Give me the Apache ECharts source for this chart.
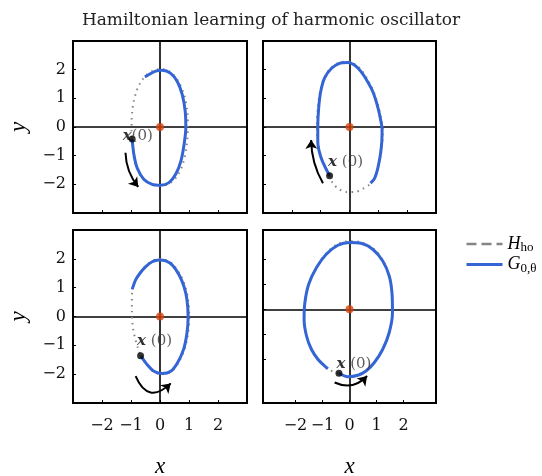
<!DOCTYPE html>
<html>
<head>
<meta charset="utf-8">
<script src="https://cdn.jsdelivr.net/npm/echarts@6/dist/echarts.min.js"></script>
<style>
  html, body { margin: 0; padding: 0; background: #fff; }
  #chart { width: 542px; height: 476px; }
</style>
</head>
<body>
<div id="chart"></div>
<script>
// tick values shared by every panel
const tickValues = [-2, -1, 0, 1, 2];

// panel 1 (top left)
const p1True = [[-0.96,-0.42],[-0.92,-0.95],[-0.80,-1.42],[-0.58,-1.80],[-0.30,-2.00],[0.02,-2.05],[0.33,-1.97],[0.60,-1.70],[0.80,-1.25],[0.92,-0.65],[0.96,0.0],[0.94,0.55],[0.84,1.10],[0.64,1.58],[0.38,1.90],[0.08,2.02],[-0.20,1.98],[-0.45,1.83],[-0.67,1.56],[-0.82,1.22],[-0.91,0.87],[-0.96,0.52],[-0.98,0.20],[-0.98,-0.12],[-0.96,-0.42]];
const p1Learned = [[-0.96,-0.42],[-0.90,-0.96],[-0.79,-1.42],[-0.56,-1.82],[-0.27,-2.00],[0.02,-2.03],[0.31,-1.94],[0.54,-1.65],[0.72,-1.19],[0.83,-0.61],[0.89,-0.03],[0.87,0.54],[0.77,1.12],[0.60,1.58],[0.37,1.87],[0.08,1.98],[-0.15,1.95],[-0.38,1.83],[-0.52,1.75]];

// panel 2 (top right)
const p2True = [[-0.69,-1.70],[-0.95,-1.12],[-1.10,-0.52],[-1.13,0.0],[-1.10,0.65],[-1.02,1.23],[-0.88,1.72],[-0.64,2.07],[-0.35,2.25],[-0.05,2.28],[0.20,2.18],[0.44,1.95],[0.67,1.58],[0.85,1.20],[0.99,0.76],[1.10,0.28],[1.15,-0.12],[1.14,-0.55],[1.08,-1.00],[0.98,-1.45],[0.85,-1.82],[0.70,-2.00],[0.46,-2.16],[0.17,-2.27],[-0.12,-2.27],[-0.40,-2.14],[-0.58,-1.96],[-0.69,-1.70]];
const p2Learned = [[-0.69,-1.70],[-0.98,-1.09],[-1.10,-0.51],[-1.10,0.01],[-1.07,0.65],[-1.00,1.23],[-0.87,1.70],[-0.63,2.04],[-0.35,2.22],[-0.06,2.25],[0.17,2.16],[0.40,1.93],[0.63,1.58],[0.81,1.23],[0.96,0.77],[1.07,0.30],[1.13,-0.10],[1.12,-0.51],[1.07,-0.98],[0.98,-1.44],[0.87,-1.79],[0.73,-1.96]];

// panel 3 (bottom left)
const p3True = [[-0.67,-1.36],[-0.44,-1.68],[-0.21,-1.92],[0.08,-2.00],[0.38,-1.92],[0.62,-1.63],[0.84,-1.16],[0.97,-0.58],[1.01,0.0],[0.97,0.58],[0.87,1.05],[0.69,1.47],[0.45,1.80],[0.20,1.96],[-0.03,1.99],[-0.27,1.93],[-0.50,1.75],[-0.70,1.50],[-0.85,1.25],[-0.95,0.92],[-0.97,0.55],[-0.97,0.20],[-0.96,-0.12],[-0.92,-0.48],[-0.84,-0.82],[-0.76,-1.10],[-0.67,-1.36]];
const p3Learned = [[-0.64,-1.40],[-0.44,-1.67],[-0.21,-1.90],[0.08,-1.98],[0.37,-1.90],[0.60,-1.61],[0.81,-1.15],[0.93,-0.57],[0.97,0.0],[0.93,0.58],[0.83,1.03],[0.66,1.44],[0.43,1.78],[0.20,1.93],[-0.03,1.96],[-0.27,1.90],[-0.50,1.72],[-0.69,1.50],[-0.84,1.27],[-0.96,0.94]];

// panel 4 (bottom right)
const p4True = [[-0.39,-2.56],[-0.06,-2.70],[0.31,-2.64],[0.61,-2.47],[0.92,-2.13],[1.23,-1.60],[1.47,-0.93],[1.59,-0.13],[1.57,0.67],[1.47,1.33],[1.24,1.95],[0.87,2.44],[0.43,2.68],[0.0,2.72],[-0.43,2.62],[-0.86,2.24],[-1.22,1.68],[-1.51,1.00],[-1.65,0.27],[-1.68,-0.40],[-1.59,-1.07],[-1.41,-1.60],[-1.17,-2.00],[-0.92,-2.27],[-0.70,-2.45],[-0.39,-2.56]];
const p4Learned = [[-0.39,-2.56],[-0.06,-2.70],[0.31,-2.64],[0.61,-2.47],[0.92,-2.13],[1.23,-1.60],[1.47,-0.93],[1.59,-0.13],[1.57,0.67],[1.47,1.33],[1.23,1.93],[0.86,2.40],[0.43,2.64],[0.0,2.67],[-0.43,2.56],[-0.86,2.20],[-1.22,1.67],[-1.51,1.00],[-1.65,0.27],[-1.68,-0.40],[-1.59,-1.07],[-1.41,-1.60],[-1.17,-2.00],[-0.92,-2.27],[-0.80,-2.38]];

// starting points x(0)
const startPoints = [[-0.96,-0.42],[-0.69,-1.70],[-0.67,-1.36],[-0.39,-2.56]];
// direction arrows: [from, to]
const arrowCoords = [
  [[-1.19,-0.90],[-0.75,-2.09]],
  [[-0.92,-1.96],[-1.33,-0.45]],
  [[-0.84,-2.07],[0.37,-2.32]],
  [[-0.55,-2.93],[0.65,-2.67]]
];
// axis ranges per panel
const xRanges = [[-3,3],[-3,3],[-3,3],[-3.2,3.2]];
const yRanges = [[-3,3],[-3,3],[-3,3],[-3.75,3.17]];

const trueSets = [p1True, p2True, p3True, p4True];
const learnedSets = [p1Learned, p2Learned, p3Learned, p4Learned];

const SERIF = '"DejaVu Serif", "Liberation Serif", serif';
const GRAY = '#858585';
const BLUE = '#3465d4';
const RED = '#d4420e';

const gridPos = [
  { left: 73, top: 41, width: 174, height: 172 },
  { left: 263, top: 41, width: 173, height: 172 },
  { left: 73, top: 230, width: 174, height: 173 },
  { left: 263, top: 230, width: 173, height: 173 }
];
const arrowCurve = [-0.17, 0.13, -0.72, -0.36];
const labelOffsets = [[-13, -3], [-5, -14], [-7, -15], [-6, -9]];

const fmt = v => (v < 0 ? '\u2212' + (-v) : String(v));

const grids = gridPos.map(g => Object.assign({
  show: true, borderColor: '#000', borderWidth: 2, backgroundColor: 'transparent',
  containLabel: false, outerBoundsMode: 'none'
}, g));

const xAxes = gridPos.map((g, i) => ({
  type: 'value', gridIndex: i, min: xRanges[i][0], max: xRanges[i][1],
  axisLine: { show: false, onZero: false },
  splitLine: { show: false },
  axisTick: { show: true, inside: true, length: 3, customValues: tickValues, lineStyle: { color: '#000', width: 1 } },
  axisLabel: {
    show: i >= 2, customValues: tickValues, formatter: fmt, margin: 15,
    color: '#111', fontFamily: SERIF, fontSize: 16
  },
  name: i >= 2 ? 'x' : '', nameLocation: 'middle', nameGap: 52,
  nameTextStyle: { fontFamily: '"Liberation Serif", serif', fontStyle: 'italic', fontSize: 23, color: '#000' }
}));

const yAxes = gridPos.map((g, i) => ({
  type: 'value', gridIndex: i, min: yRanges[i][0], max: yRanges[i][1],
  axisLine: { show: false, onZero: false },
  splitLine: { show: false },
  axisTick: { show: true, inside: true, length: 3, customValues: tickValues, lineStyle: { color: '#000', width: 1 } },
  axisLabel: {
    show: i % 2 === 0, customValues: tickValues, formatter: fmt, margin: 7,
    color: '#111', fontFamily: SERIF, fontSize: 16
  },
  name: i % 2 === 0 ? 'y' : '', nameLocation: 'middle', nameGap: 43, nameRotate: 90,
  nameTextStyle: { fontFamily: '"Liberation Serif", serif', fontStyle: 'italic', fontSize: 23, color: '#000' }
}));

const series = [];
gridPos.forEach((g, i) => {
  series.push({
    name: 'Hho', type: 'line', xAxisIndex: i, yAxisIndex: i,
    data: trueSets[i], smooth: 0.3, symbol: 'none', z: 2,
    lineStyle: { color: GRAY, width: 2, type: [1.5, 4.5] },
    itemStyle: { color: GRAY },
    markLine: {
      silent: true, symbol: 'none', z: 1,
      label: { show: false },
      lineStyle: { color: '#000', width: 1.6, type: 'solid' },
      data: [{ xAxis: 0 }, { yAxis: 0 }]
    }
  });
  series.push({
    name: 'G', type: 'line', xAxisIndex: i, yAxisIndex: i,
    data: learnedSets[i], smooth: 0.3, symbol: 'none', z: 3,
    lineStyle: { color: BLUE, width: 3 },
    itemStyle: { color: BLUE }
  });
  series.push({
    type: 'lines', coordinateSystem: 'cartesian2d', xAxisIndex: i, yAxisIndex: i, z: 4,
    symbol: ['none', 'arrow'], symbolSize: 9,
    lineStyle: { color: '#000', width: 2, opacity: 1, curveness: arrowCurve[i] },
    data: [{ coords: arrowCoords[i] }]
  });
  series.push({
    type: 'scatter', xAxisIndex: i, yAxisIndex: i, z: 5,
    data: [[0, 0]], symbolSize: 8, itemStyle: { color: RED }
  });
  series.push({
    type: 'scatter', xAxisIndex: i, yAxisIndex: i, z: 6,
    data: [startPoints[i]], symbolSize: 7, itemStyle: { color: '#000' },
    label: {
      show: true, position: 'right', distance: 0, offset: labelOffsets[i],
      formatter: i === 0 ? '{b|x}{n|(0)}' : '{b|x}{n| (0)}',
      rich: {
        b: { fontFamily: SERIF, fontStyle: 'italic', fontWeight: 'bold', fontSize: 15, color: '#000' },
        n: { fontFamily: SERIF, fontSize: 15, color: '#333' }
      }
    }
  });
});

const chart = echarts.init(document.getElementById('chart'), null, { renderer: 'canvas' });
chart.setOption({
  animation: false,
  backgroundColor: '#fff',
  title: {
    text: 'Hamiltonian learning of harmonic oscillator',
    left: 'center', top: 7,
    textStyle: { fontFamily: SERIF, fontWeight: 'normal', fontSize: 17, color: '#222' }
  },
  legend: {
    orient: 'vertical', left: 460, top: 230, itemWidth: 36, itemHeight: 12, itemGap: 1,
    itemStyle: { color: 'transparent', borderWidth: 0, opacity: 0 },
    data: [
      { name: 'Hho', lineStyle: { type: 'dashed', dashOffset: 0, width: 2.5, color: GRAY, opacity: 1 } },
      { name: 'G', lineStyle: { width: 3, color: BLUE, opacity: 1 } }
    ],
    formatter: name => name === 'Hho' ? '{i|H}{s|ho}' : '{i|G}{s|0,\u03b8}',
    textStyle: {
      rich: {
        i: { fontFamily: '"Liberation Serif", serif', fontStyle: 'italic', fontSize: 18, color: '#000' },
        s: { fontFamily: '"Liberation Serif", serif', fontSize: 13, color: '#000', padding: [8, 0, 0, 0] }
      }
    }
  },
  grid: grids,
  xAxis: xAxes,
  yAxis: yAxes,
  series: series
});
</script>
</body>
</html>
